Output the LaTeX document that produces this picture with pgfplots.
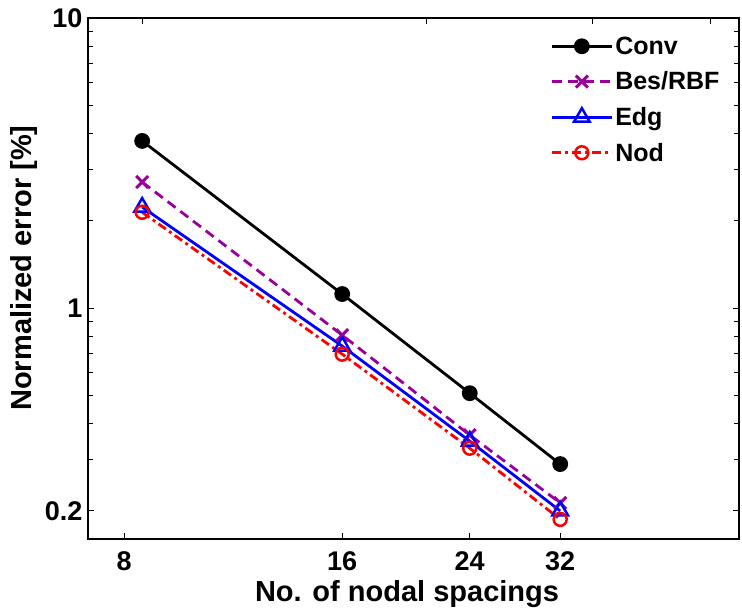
\documentclass[border=0pt]{standalone}
\usepackage{pgfplots}
\pgfplotsset{compat=1.18}
\usepackage{fontspec}
\setmainfont{Liberation Sans}
\definecolor{mpurple}{RGB}{153,0,153}
\begin{document}
\begin{tikzpicture}
\useasboundingbox (-88pt,-71pt) rectangle (654pt,539pt);
\begin{axis}[
  at={(0,0)}, anchor=south west,
  scale only axis, width=651pt, height=521pt,
  xmode=log, ymode=log,
  xmin=7.13, xmax=56.5, ymin=0.16, ymax=10,
  xtick={8,16,24,32}, xticklabels={8,16,24,32},
  ytick={0.2,1,10}, yticklabels={0.2,1,10},
  minor ytick={0.3,0.4,0.5,0.6,0.7,0.8,0.9,2,3,4,5,6,7,8,9},
  xtick pos=left,
  tick align=inside,
  major tick length=6pt, minor tick length=5pt,
  every tick/.style={black, line width=0.8pt},
  axis line style={line width=1.2pt},
  /pgf/number format/assume math mode=true,
  tick label style={font=\bfseries\fontsize{27}{29}\selectfont},
  yticklabel style={xshift=-2pt},
  xticklabel style={yshift=-9pt},
  xlabel={No. of nodal spacings},
  ylabel={Normalized error [\%]},
  label style={font=\bfseries\fontsize{29}{31}\selectfont},
  xlabel style={at={(axis description cs:0.49,-0.106)}, anchor=center},
  ylabel style={at={(axis description cs:-0.098,0.52)}, anchor=center},
  legend style={at={(rel axis cs:0.707,0.972)}, anchor=north west, draw=none, fill=white,
    font=\bfseries\fontsize{25}{28}\selectfont, row sep=12pt, inner sep=2pt},
  legend cell align=left,
  legend image code/.code={\draw[mark repeat=2,mark phase=2] plot coordinates {(0pt,0pt) (30pt,0pt) (60pt,0pt)};},
]
\addplot[black, line width=2.8pt, mark=*, mark size=6.5pt, mark options={solid}]
  coordinates {(8.47,3.77) (16,1.118) (24,0.509) (32,0.29)};
\addlegendentry{Conv}
\addplot[mpurple, line width=2.8pt, dash pattern=on 10pt off 6pt, mark=x, mark size=8.5pt, mark options={solid, line width=3pt}]
  coordinates {(8.47,2.72) (16,0.807) (24,0.365) (32,0.213)};
\addlegendentry{Bes/RBF}
\addplot[blue, line width=2.8pt, mark=triangle, mark size=9pt, mark options={solid, line width=2.5pt}]
  coordinates {(8.47,2.23) (16,0.74) (24,0.348) (32,0.2)};
\addlegendentry{Edg}
\addplot[red, line width=2.8pt, dash pattern=on 9pt off 4pt on 3pt off 4pt, mark=o, mark size=6.5pt, mark options={solid, line width=2.5pt}]
  coordinates {(8.47,2.14) (16,0.694) (24,0.329) (32,0.187)};
\addlegendentry{Nod}
\end{axis}
\begin{axis}[
  at={(0,0)}, anchor=south west,
  scale only axis, width=651pt, height=521pt,
  xmode=log, ymode=log,
  xmin=7.0, xmax=34.3, ymin=0.16, ymax=10,
  xtick={8,16,24,32}, xticklabels={},
  xtick pos=right, ytick=\empty,
  tick align=inside,
  major tick length=6pt,
  every tick/.style={black, line width=0.8pt},
  axis line style={line width=1.2pt},
]
\end{axis}
\end{tikzpicture}
\end{document}
